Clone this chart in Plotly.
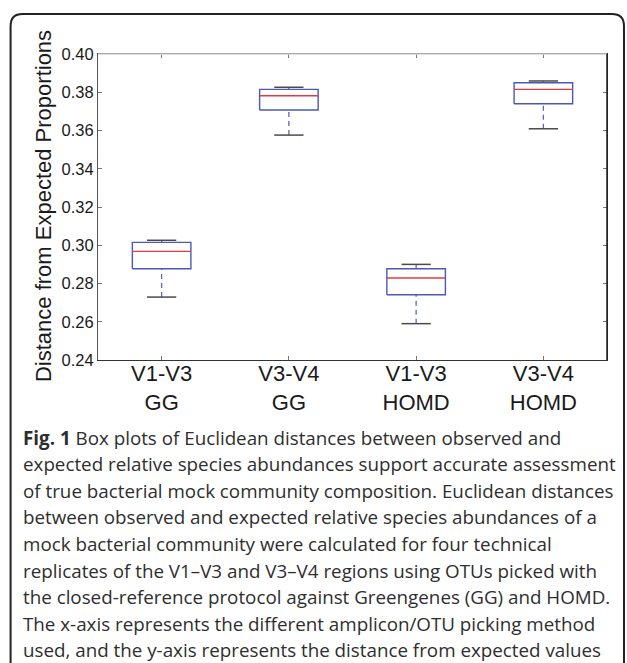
import plotly.graph_objects as go

# ---- data ----
categories = ["V1-V3<br>GG", "V3-V4<br>GG", "V1-V3<br>HOMD", "V3-V4<br>HOMD"]
upper_whisker = [0.3026, 0.3826, 0.2900, 0.3859]
q3 = [0.3015, 0.3815, 0.2877, 0.3850]
median = [0.2968, 0.3782, 0.2829, 0.3815]
q1 = [0.2877, 0.3707, 0.2741, 0.3740]
lower_whisker = [0.2729, 0.3576, 0.2590, 0.3609]
y_ticks = [0.24, 0.26, 0.28, 0.30, 0.32, 0.34, 0.36, 0.38, 0.40]
y_label = "Distance from Expected Proportions"
caption_lines = [
    "<b>Fig. 1</b> Box plots of Euclidean distances between observed and",
    "expected relative species abundances support accurate assessment",
    "of true bacterial mock community composition. Euclidean distances",
    "between observed and expected relative species abundances of a",
    "mock bacterial community were calculated for four technical",
    "replicates of the V1\u2013V3 and V3\u2013V4 regions using OTUs picked with",
    "the closed-reference protocol against Greengenes (GG) and HOMD.",
    "The x-axis represents the different amplicon/OTU picking method",
    "used, and the y-axis represents the distance from expected values",
]

# ---- layout geometry (pixels) ----
W, H = 627, 663
L, R, T, B = 97.5, 607, 54, 360
PW, PH = R - L, B - T


def px(x):
    return (x - L) / PW


def py(y):
    return 1 - (y - T) / PH


BOX_HALF = 0.23
CAP_HALF = 0.115

xpos = [i + 1 for i in range(len(categories))]

box_x, box_y = [], []
med_x, med_y = [], []
wh_x, wh_y = [], []
cap_x, cap_y = [], []
for x, lo, a, m, b, hi in zip(xpos, lower_whisker, q1, median, q3, upper_whisker):
    box_x += [x - BOX_HALF, x + BOX_HALF, x + BOX_HALF, x - BOX_HALF, x - BOX_HALF, None]
    box_y += [a, a, b, b, a, None]
    med_x += [x - BOX_HALF, x + BOX_HALF, None]
    med_y += [m, m, None]
    wh_x += [x, x, None, x, x, None]
    wh_y += [lo, a, None, b, hi, None]
    cap_x += [x - CAP_HALF, x + CAP_HALF, None, x - CAP_HALF, x + CAP_HALF, None]
    cap_y += [lo, lo, None, hi, hi, None]

fig = go.Figure()
fig.add_trace(go.Scatter(x=wh_x, y=wh_y, mode="lines",
                         line=dict(color="#5a68c4", width=1.3, dash="5px,4px"),
                         hoverinfo="skip", showlegend=False))
fig.add_trace(go.Scatter(x=cap_x, y=cap_y, mode="lines",
                         line=dict(color="#4a4a4a", width=1.5),
                         hoverinfo="skip", showlegend=False))
fig.add_trace(go.Scatter(x=box_x, y=box_y, mode="lines",
                         line=dict(color="#4a58b8", width=1.4),
                         hoverinfo="skip", showlegend=False))
fig.add_trace(go.Scatter(x=med_x, y=med_y, mode="lines",
                         line=dict(color="#e8383c", width=1.4),
                         hoverinfo="skip", showlegend=False))

axis_font = dict(family="Liberation Sans, Arial, sans-serif", color="#1a1a1a")

fig.update_xaxes(range=[0.5, 4.5], tickvals=xpos, ticktext=categories,
                 showgrid=False, zeroline=False, showline=True,
                 linecolor="#333333", linewidth=1, mirror="ticks",
                 ticks="inside", ticklen=4, tickcolor="#777777",
                 ticklabelstandoff=-6,
                 tickfont=dict(size=22, **axis_font))
fig.update_yaxes(range=[0.24, 0.40], tickvals=y_ticks, tickformat=".2f",
                 showgrid=False, zeroline=False, showline=True,
                 linecolor="#555555", linewidth=1, mirror="ticks",
                 ticks="inside", ticklen=4, tickcolor="#777777",
                 tickfont=dict(size=16.5, **axis_font))

shapes = []
# top edge light gray, right edge dark
shapes.append(dict(type="line", xref="paper", yref="paper", x0=0, x1=1, y0=1, y1=1,
                   line=dict(color="#d4d4d4", width=1.6), layer="above"))
shapes.append(dict(type="line", xref="paper", yref="paper", x0=1, x1=1, y0=0, y1=1,
                   line=dict(color="#111111", width=1.4), layer="above"))

# rounded frame around the figure
fl, ft, fr, fb, rad = 10, 14, 624, 720, 12
path = (f"M {px(fl)},{py(fb)} L {px(fl)},{py(ft + rad)} "
        f"Q {px(fl)},{py(ft)} {px(fl + rad)},{py(ft)} "
        f"L {px(fr - rad)},{py(ft)} Q {px(fr)},{py(ft)} {px(fr)},{py(ft + rad)} "
        f"L {px(fr)},{py(fb)}")
shapes.append(dict(type="path", xref="paper", yref="paper", path=path,
                   line=dict(color="#222222", width=2)))

annotations = [dict(text=y_label, xref="paper", yref="paper", x=px(43), y=py(206.5),
                    xanchor="center", yanchor="middle", textangle=-90, showarrow=False,
                    font=dict(size=22, **axis_font))]

cap_font = dict(family="Open Sans, Noto Sans, sans-serif", size=18.8, color="#2e2e2e")
line0 = 437.5
spacing = 26.6
for i, txt in enumerate(caption_lines):
    annotations.append(dict(text=txt, xref="paper", yref="paper", x=px(20),
                            y=py(line0 + i * spacing), xanchor="left", yanchor="middle",
                            showarrow=False, font=cap_font))

fig.update_layout(width=W, height=H, margin=dict(l=L, r=W - R, t=T, b=H - B),
                  paper_bgcolor="white", plot_bgcolor="white",
                  shapes=shapes, annotations=annotations, showlegend=False)

fig.write_html("out.html")
